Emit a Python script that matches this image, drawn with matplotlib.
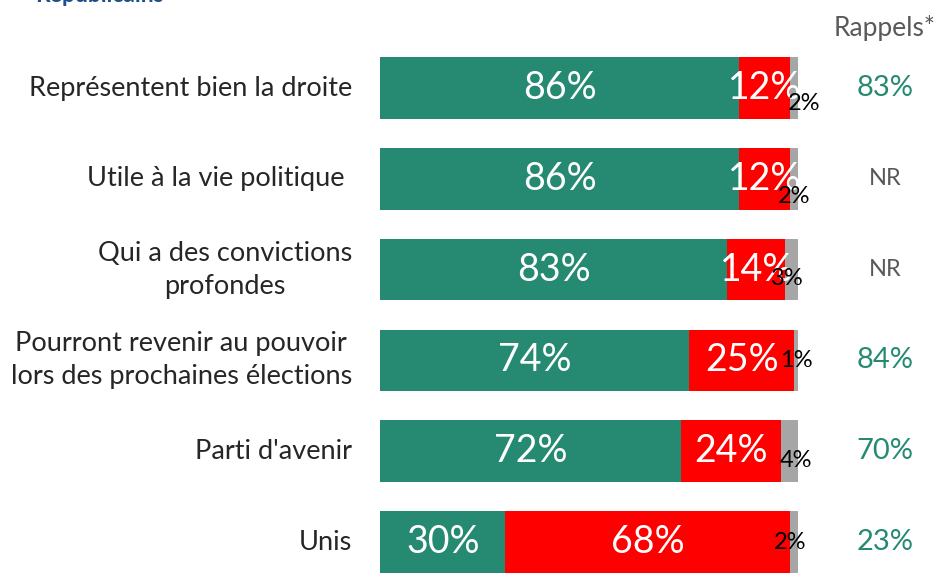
import matplotlib.pyplot as plt

categories = [
    "Représentent bien la droite",
    "Utile à la vie politique ",
    "Qui a des convictions\nprofondes",
    "Pourront revenir au pouvoir\nlors des prochaines élections",
    "Parti d'avenir",
    "Unis",
]
oui = [86, 86, 83, 74, 72, 30]
non = [12, 12, 14, 25, 24, 68]
nsp = [2, 2, 3, 1, 4, 2]
rappels = ["83%", "NR", "NR", "84%", "70%", "23%"]

GREEN = "#268A72"
RED = "#FF0000"
GREY = "#A6A6A6"

plt.rcParams["font.family"] = ["Lato", "DejaVu Sans"]

fig = plt.figure(figsize=(9.42, 5.77), dpi=100)
ax = fig.add_axes([380 / 942, 0, 418 / 942, (577 - 42.6) / 577])
ax.set_xlim(0, 100)
ax.set_ylim(5.385, -0.5)
ax.axis("off")

y = list(range(len(categories)))
h = 0.68
ax.barh(y, oui, height=h, color=GREEN)
ax.barh(y, non, left=oui, height=h, color=RED)
left_nsp = [a + b for a, b in zip(oui, non)]
ax.barh(y, nsp, left=left_nsp, height=h, color=GREY)

# offsets of the small grey labels (x in %, y in rows)
nsp_dx = [2.5, 0.0, -1.0, 0.0, 1.5, -1.0]
nsp_dy = [0.17, 0.2, 0.1, 0.0, 0.1, 0.0]

for i in y:
    ax.text(oui[i] / 2, i, f"{oui[i]}%", ha="center", va="center",
            color="white", fontsize=27)
    ax.text(oui[i] + non[i] / 2, i, f"{non[i]}%", ha="center", va="center",
            color="white", fontsize=27)
    ax.text(left_nsp[i] + nsp[i] / 2 + nsp_dx[i], i + nsp_dy[i], f"{nsp[i]}%",
            ha="center", va="center", color="black", fontsize=17)
    ax.text(-6.7, i, categories[i], ha="right", va="center",
            multialignment="center", color="#262626", fontsize=19.5,
            linespacing=1.4)
    col = "#595959" if rappels[i] == "NR" else GREEN
    fs = 17 if rappels[i] == "NR" else 21
    ax.text(120.8, i, rappels[i], ha="center", va="center", color=col,
            fontsize=fs)

fig.text(885 / 942, 1 - 28 / 577, "Rappels*", ha="center", va="center",
         color="#595959", fontsize=19)
fig.text(35 / 942, 1 + 5 / 577, "Républicains", ha="left", va="center",
         color="#1F4E8C", fontsize=16.5, fontweight="bold")

fig.savefig("out.png", dpi=100)
